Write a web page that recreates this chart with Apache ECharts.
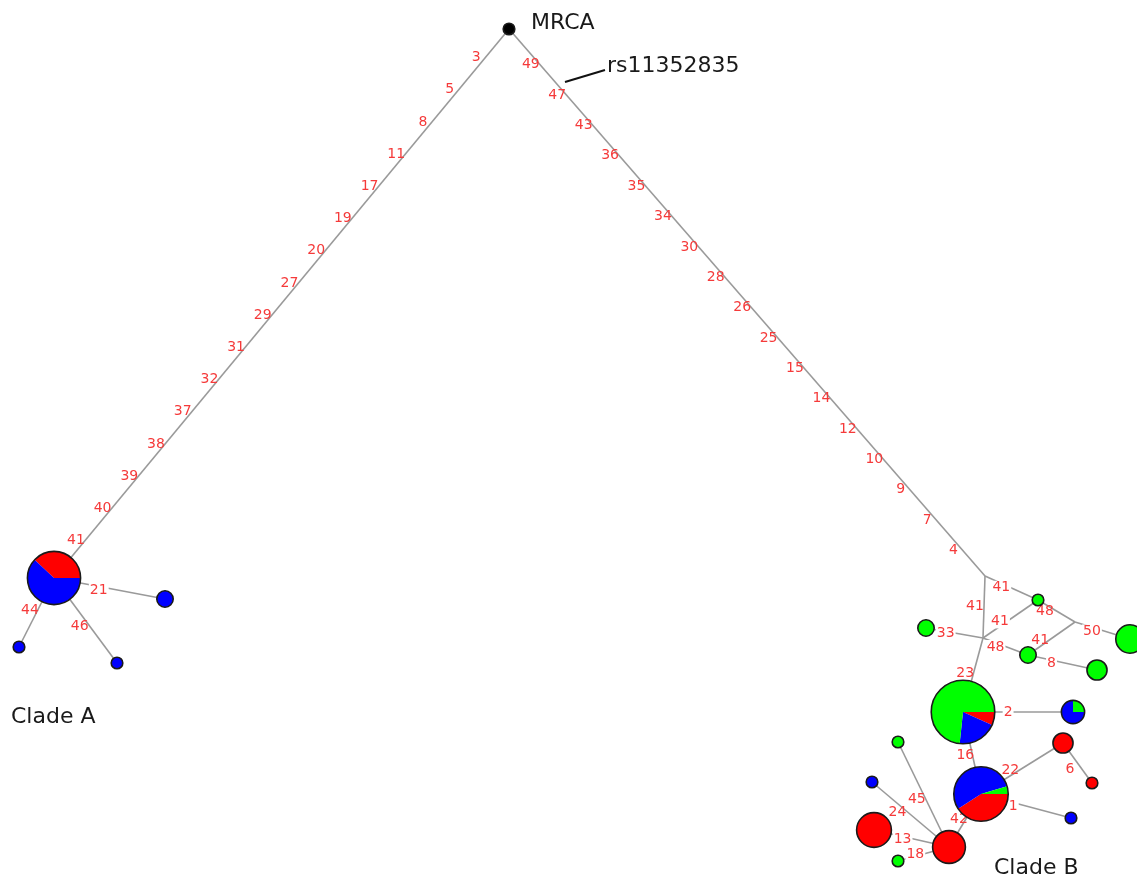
<!DOCTYPE html>
<html><head><meta charset="utf-8">
<script src="https://cdn.jsdelivr.net/npm/echarts@6/dist/echarts.min.js"></script>
<style>html,body{margin:0;padding:0;background:#fff}#c{width:1137px;height:881px}</style>
</head><body><div id="c"></div>
<script>
// ---- data ----
const nodeNames = ['MRCA','A0','A1','A2','A3','J1','J2','G1','J3','G2','G3','G4','G5','B1','P4','B2','R1','R2','Bl1','RH','Gs1','Bs1','Rbig','Gs2'];
const nodeX = [509,54,165,19,117,985,983,1038,1075,1130,926,1028,1097,963,1073,981,1063,1092,1071,949,898,872,874,898];
const nodeY = [29,578,599,647,663,576,638,600,622,639,628,655,670,712,712,794,743,783,818,847,742,782,830,861];
const countRed   = [0,8,0,0,0,0,0,0,0,0,0,0,0,2,0,9,3,1,0,8,0,0,9,0];
const countBlue  = [0,13,2,1,1,0,0,0,0,0,0,0,0,6,3,12,0,0,1,0,0,1,0,0];
const countGreen = [0,0,0,0,0,0,0,1,0,6,2,2,3,22,1,1,0,0,0,0,1,0,0,1];
const countRoot  = [1,0,0,0,0,0,0,0,0,0,0,0,0,0,0,0,0,0,0,0,0,0,0,0];
const edges = [
 [0,1,['3','5','8','11','17','19','20','27','29','31','32','37','38','39','40','41']],
 [0,5,['49','47','43','36','35','34','30','28','26','25','15','14','12','10','9','7','4']],
 [1,2,['21']],[1,3,['44']],[1,4,['46']],
 [5,6,['41']],[5,7,['41']],[6,7,['41']],[6,10,['33']],[6,11,['48']],[6,13,['23']],
 [7,8,['48']],[8,9,['50']],[8,11,['41']],[11,12,['8']],
 [13,14,['2']],[13,15,['16']],[15,16,['22']],[16,17,['6']],[15,18,['1']],[15,19,['42']],
 [19,20,['45']],[19,21,['24']],[19,22,['13']],[19,23,['18']]
];
const annotText = ['MRCA','rs11352835','Clade A','Clade B'];
const annotX = [531,607,11,994];
const annotY = [23,66,717,868];
const leaderLine = [[565,82],[605,70]];

// ---- layout / style ----
const labelSpan = [[0.06,0.94],[0.057,0.945],[0.41],[0.51],[0.51],[0.5],[0.34],[0.35],[0.65],[0.31],[0.5],[0.27],[0.33],[0.68],[0.35],[0.41],[0.51],[0.39],[0.52],[0.37],[0.53],[0.49],[0.61],[0.61],[0.65]];
const labelOffset = [7,7,4,7,8,9,4,-4,-1.5,4,8,6,4,5,3,0,7,-5,10,4,6,-8,-7,-3,2];
const startAngleDeg = [0,-137,0,0,0,0,0,0,0,0,0,0,0,0,0,0,0,0,0,0,0,0,0,0];
const sliceColors = ['#ff0000','#0000ff','#00ff00','#000000'];
const counts = [countRed,countBlue,countGreen,countRoot];
const RK = 5.8;
const FONT = '"DejaVu Sans", sans-serif';

const edgeData = edges.map(e => [nodeX[e[0]],nodeY[e[0]],nodeX[e[1]],nodeY[e[1]]]);
const labelData = [], labelText = [], labelBg = [];
edges.forEach((e,i) => {
  const labs = e[2], span = labelSpan[i];
  labs.forEach((txt,k) => {
    const t = labs.length > 1 ? span[0] + (span[1]-span[0]) * k/(labs.length-1) : span[0];
    labelData.push([nodeX[e[0]],nodeY[e[0]],nodeX[e[1]],nodeY[e[1]],t,labelOffset[i]]);
    labelText.push(txt);
    labelBg.push(labs.length === 1 && Math.abs(labelOffset[i]) <= 4);
  });
});
const nodeData = nodeNames.map((n,i) => [nodeX[i],nodeY[i],i]);
const annotData = annotText.map((t,i) => [annotX[i],annotY[i],i]);

const chart = echarts.init(document.getElementById('c'), null, {renderer:'canvas'});
chart.setOption({
  animation:false,
  backgroundColor:'#ffffff',
  grid:{left:0,right:0,top:0,bottom:0},
  xAxis:{type:'value',min:0,max:1137,show:false},
  yAxis:{type:'value',min:0,max:881,inverse:true,show:false},
  series:[
    { type:'custom', data:edgeData, encode:{x:[0,2],y:[1,3]}, silent:true,
      renderItem:(p,api)=>{
        const a=api.coord([api.value(0),api.value(1)]), b=api.coord([api.value(2),api.value(3)]);
        return {type:'line',shape:{x1:a[0],y1:a[1],x2:b[0],y2:b[1]},style:{stroke:'#9a9a9a',lineWidth:1.6}};
      }},
    { type:'custom', data:[[leaderLine[0][0],leaderLine[0][1],leaderLine[1][0],leaderLine[1][1]]], encode:{x:[0,2],y:[1,3]}, silent:true,
      renderItem:(p,api)=>{
        const a=api.coord([api.value(0),api.value(1)]), b=api.coord([api.value(2),api.value(3)]);
        return {type:'line',shape:{x1:a[0],y1:a[1],x2:b[0],y2:b[1]},style:{stroke:'#111',lineWidth:2}};
      }},
    { type:'custom', data:labelData, encode:{x:[0,2],y:[1,3]}, silent:true,
      renderItem:(p,api)=>{
        const a=api.coord([api.value(0),api.value(1)]), b=api.coord([api.value(2),api.value(3)]);
        const t=api.value(4), d=api.value(5);
        const dx=b[0]-a[0], dy=b[1]-a[1], L=Math.hypot(dx,dy);
        const x=a[0]+dx*t+(-dy/L)*d, y=a[1]+dy*t+(dx/L)*d;
        const st={x:x,y:y,text:labelText[p.dataIndex],fill:'#f53a3a',font:'14px '+FONT,align:'center',verticalAlign:'middle'};
        if(labelBg[p.dataIndex]){st.backgroundColor='#ffffff';st.padding=[0,1];}
        return {type:'text',style:st};
      }},
    { type:'custom', data:nodeData, encode:{x:0,y:1}, silent:true,
      renderItem:(p,api)=>{
        const i=api.value(2);
        const c=api.coord([api.value(0),api.value(1)]);
        let total=0; counts.forEach(arr=>total+=arr[i]);
        if(!total) return null;
        const r=RK*Math.sqrt(total);
        const children=[];
        let ang=startAngleDeg[i]*Math.PI/180;
        counts.forEach((arr,k)=>{
          if(!arr[i]) return;
          const sw=arr[i]/total*Math.PI*2;
          if(arr[i]===total){
            children.push({type:'circle',shape:{cx:c[0],cy:c[1],r:r},style:{fill:sliceColors[k]}});
          } else {
            children.push({type:'sector',shape:{cx:c[0],cy:c[1],r:r,r0:0,startAngle:ang,endAngle:ang+sw,clockwise:true},style:{fill:sliceColors[k]}});
          }
          ang+=sw;
        });
        children.push({type:'circle',shape:{cx:c[0],cy:c[1],r:r},style:{fill:'none',stroke:'#1a1a1a',lineWidth:1.6}});
        return {type:'group',children:children};
      }},
    { type:'custom', data:annotData, encode:{x:0,y:1}, silent:true,
      renderItem:(p,api)=>{
        const c=api.coord([api.value(0),api.value(1)]);
        return {type:'text',style:{x:c[0],y:c[1],text:annotText[api.value(2)],fill:'#1a1a1a',font:'22px '+FONT,align:'left',verticalAlign:'middle'}};
      }}
  ]
});
</script></body></html>
